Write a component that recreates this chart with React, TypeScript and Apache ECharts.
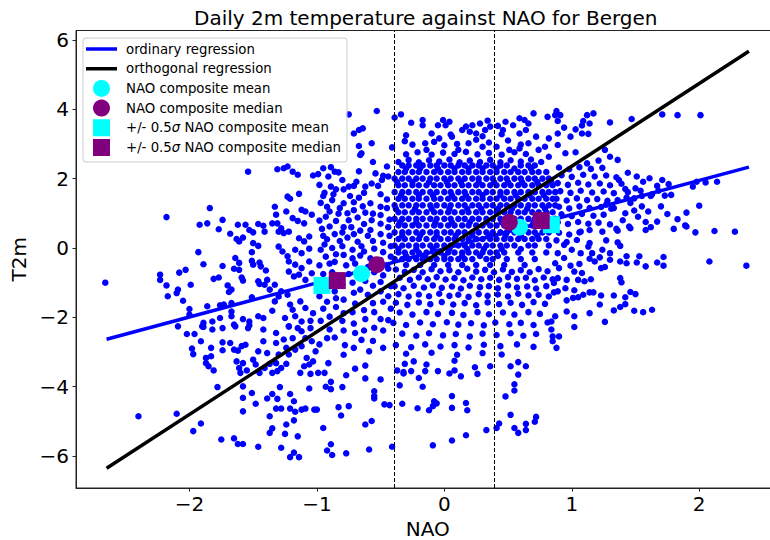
import { useEffect, useRef } from 'react';
import * as echarts from 'echarts';

const TITLE = 'Daily 2m temperature against NAO for Bergen';
const X_TICKS = [-2, -1, 0, 1, 2];
const Y_TICKS = [-6, -4, -2, 0, 2, 4, 6];
const X_RANGE = [-2.89, 2.63];
const Y_RANGE = [-6.92, 6.27];
const NAO_THRESHOLDS = [-0.39, 0.39];

const LEGEND_NAMES = [
  'ordinary regression',
  'orthogonal regression',
  'NAO composite mean',
  'NAO composite median',
  '+/- 0.5σ NAO composite mean',
  '+/- 0.5σ NAO composite median',
];

const ordinaryLine = [[-2.65, -2.63], [2.39, 2.33]];
const orthogonalLine = [[-2.65, -6.35], [2.39, 5.67]];
const compositeMean = [[-0.65, -0.74], [0.59, 0.6]];
const compositeMedian = [[-0.53, -0.48], [0.51, 0.74]];
const halfSigmaMean = [[-0.96, -1.08], [0.84, 0.67]];
const halfSigmaMedian = [[-0.84, -0.94], [0.76, 0.79]];

// daily points, sparse outer cloud (left side)
const leftPoints = [
  [-2.66, -1.0], [-2.18, 0.89], [-1.84, 1.15], [-1.93, -0.12], [-1.89, -0.47], [-2.23, -0.77], [-2.23, -0.92],
  [-2.18, -1.08], [-2.17, -1.39], [-2.09, -1.2], [-2.1, -1.3], [-2.05, -1.52], [-1.99, -1.06], [-2.08, -0.71],
  [-2.03, -0.63], [-1.92, 0.67], [-1.86, 0.71], [-1.77, 0.54], [-1.74, 0.81], [-1.68, 0.41], [-1.62, 0.67],
  [-1.56, 0.67], [-1.63, 0.26], [-1.61, 0.19], [-1.58, 0.3], [-1.53, 0.52], [-1.5, 0.45], [-1.46, 0.69],
  [-1.42, 0.64], [-1.41, 0.47], [-1.5, 0.14], [-1.46, 0.06], [-1.51, -0.12], [-1.64, -0.29], [-1.61, -0.43],
  [-1.65, -0.6], [-1.61, -0.63], [-1.74, -0.52], [-1.77, -0.85], [-1.81, -0.89], [-1.7, -1.08], [-1.67, -1.2],
  [-1.69, -1.27], [-1.59, -0.85], [-1.58, -0.94], [-1.51, -0.37], [-1.5, -0.48], [-1.45, -0.42], [-1.44, -0.53],
  [-1.4, -0.65], [-1.46, -0.96], [-1.45, -1.04], [-1.41, -1.06], [-1.37, -1.2], [-1.39, -0.92], [-1.33, -1.06],
  [-1.51, -1.42], [-1.76, -1.65], [-1.73, -1.63], [-1.67, -1.59], [-1.86, -1.68], [-2.0, -1.76], [-2.0, -1.92],
  [-1.89, -2.16], [-1.89, -2.28], [-2.09, -2.26], [-1.82, -2.12], [-1.76, -2.02], [-1.67, -1.83], [-1.67, -1.97],
  [-1.64, -2.26], [-1.58, -2.05], [-1.53, -2.12], [-1.54, -2.31], [-1.46, -1.97], [-1.42, -2.02], [-1.33, -1.54],
  [-1.35, -1.81], [-1.25, -2.02], [-1.22, -2.26], [-1.17, -1.97], [-1.12, -2.12], [-1.15, -2.31], [-1.28, -1.25],
  [-1.3, -1.4], [-1.23, -1.35], [-1.21, -1.63], [-1.19, -1.78], [-1.13, -1.54], [-1.09, -1.73], [-1.03, -1.88],
  [-1.05, -2.1], [-1.54, 2.2], [-1.31, 2.27], [-1.26, 2.3], [-1.23, 2.35], [-1.19, 2.2], [-1.15, 2.11],
  [-1.03, 2.09], [-1.23, 1.48], [-1.14, 1.56], [-1.21, 1.42], [-1.33, 1.19], [-1.32, 0.96], [-1.24, 1.05],
  [-1.19, 0.86], [-1.15, 0.78], [-1.1, 0.71], [-1.09, 1.05], [-1.12, 1.1], [-1.04, 0.96], [-1.35, 0.71],
  [-1.31, 0.71], [-1.28, 0.57], [-1.3, 0.47], [-1.22, 0.47], [-1.26, 0.43], [-1.14, 0.28], [-1.1, 0.19],
  [-1.06, 0.33], [-1.27, -0.1], [-1.23, -0.24], [-1.17, -0.05], [-1.12, -0.15], [-1.06, -0.02], [-1.3, 0.04],
  [-1.22, -0.39], [-1.17, -0.48], [-1.12, -0.58], [-1.06, -0.39], [-1.14, -0.77], [-1.09, -0.92], [-1.04, -0.73],
  [-1.18, -0.82], [-1.22, -0.68],
  [-2.4, -4.85], [-2.1, -4.78], [-1.97, -5.28], [-1.91, -5.06], [-1.75, -5.52], [-1.65, -5.49], [-1.62, -5.65],
  [-1.58, -5.65], [-1.46, -5.73], [-1.28, -5.76], [-1.21, -6.03], [-1.18, -5.9], [-1.14, -6.03], [-1.15, -5.43],
  [-1.37, -5.33], [-1.35, -5.2], [-1.25, -5.36], [-1.24, -5.09], [-1.18, -4.97], [-1.37, -4.85], [-1.32, -4.63],
  [-1.28, -4.63], [-1.21, -4.63], [-1.17, -4.72], [-1.12, -4.66], [-1.09, -4.63], [-1.02, -4.66], [-1.58, -4.71],
  [-1.48, -4.49], [-1.51, -4.18], [-1.58, -4.32], [-1.39, -4.34], [-1.35, -4.21], [-1.31, -4.35], [-1.29, -4.01],
  [-1.21, -4.21], [-1.18, -4.42], [-1.06, -4.05], [-1.78, -4.01], [-1.58, -3.99],
  [-2.02, -2.48], [-1.96, -2.48], [-1.91, -2.69], [-1.98, -2.9], [-1.97, -3.06], [-1.87, -3.17], [-1.83, -3.12],
  [-1.87, -3.32], [-1.85, -3.41], [-1.81, -3.53], [-1.83, -2.88], [-1.74, -2.72], [-1.74, -2.95], [-1.68, -2.74],
  [-1.65, -2.93], [-1.62, -2.96], [-1.59, -2.83], [-1.56, -2.79], [-1.63, -3.27], [-1.61, -3.46], [-1.6, -3.6],
  [-1.55, -3.53], [-1.58, -3.32], [-1.5, -3.22], [-1.46, -2.98], [-1.48, -3.36], [-1.45, -3.6], [-1.41, -3.46],
  [-1.37, -3.34], [-1.39, -3.03], [-1.32, -3.32], [-1.3, -3.07], [-1.28, -3.46], [-1.24, -3.34], [-1.35, -3.6],
  [-1.31, -3.55], [-1.22, -3.07], [-1.17, -2.93], [-1.12, -2.83], [-1.08, -3.17], [-1.06, -3.36], [-1.13, -3.6],
  [-1.05, -3.63], [-1.03, -3.27], [-1.1, -3.41], [-1.01, -2.98],
  [-1.9, -2.26], [-1.82, -2.35], [-1.74, -2.31], [-1.65, -2.21], [-1.53, -2.23], [-1.42, -2.35], [-1.32, -2.45],
  [-1.22, -2.26], [-1.12, -2.4], [-1.05, -2.31], [-1.42, -2.69], [-1.32, -2.74], [-1.26, -2.64], [-1.19, -2.6],
  [-1.09, -2.6], [-1.04, -2.69], [-1.24, -2.88],
];

// lower half, between -1 and 0.9
const bottomPoints = [
  [-0.95, -5.19], [-0.89, -5.66], [-0.92, -5.84], [-0.88, -5.97], [-0.77, -5.92], [-0.59, -5.81], [-0.41, -5.73],
  [-0.09, -5.69], [0.06, -5.55], [0.17, -5.4], [0.33, -5.25], [0.41, -5.19], [0.43, -5.06], [0.55, -5.19],
  [0.58, -5.33], [0.64, -5.25], [0.64, -5.07], [0.71, -5.01], [0.72, -4.87], [0.52, -4.81], [-0.62, -5.09],
  [-0.57, -4.99], [-0.81, -4.83], [-0.83, -4.59], [-0.75, -4.56], [-1.0, -4.66], [-0.47, -4.51], [-0.43, -4.53],
  [-0.33, -4.49], [-0.21, -4.62], [-0.12, -4.68], [-0.09, -4.56], [-0.08, -4.42], [-0.06, -4.48], [0.06, -4.61],
  [0.06, -4.27], [0.17, -4.47], [0.18, -4.68], [0.48, -4.28], [0.55, -4.11], [0.55, -3.93], [-0.55, -4.13],
  [-0.55, -4.27], [-0.55, -4.34], [-0.93, -4.0], [-0.89, -4.07], [-0.8, -4.01], [-0.89, -3.86], [-0.5, -3.79],
  [-0.35, -3.96], [-0.17, -4.0], [-0.62, -3.76], [-0.7, -3.48], [-0.77, -3.67], [-0.94, -3.6], [-0.99, -3.6],
  [-0.91, -3.32], [-0.62, -3.39], [-0.37, -3.53], [-0.32, -3.62], [-0.26, -3.55], [-0.2, -3.75], [-0.15, -3.55],
  [-0.14, -3.36], [-0.05, -3.55], [0.04, -3.62], [0.08, -3.53], [0.13, -3.7], [0.08, -3.25], [0.24, -3.44],
  [0.26, -3.63], [0.36, -3.41], [0.52, -3.41], [0.58, -3.29], [0.64, -3.41], [0.58, -3.65], [-0.24, -3.27],
  [-0.31, -3.34], [-0.32, -3.58],
];

// right side, x above 0.85
const rightPoints = [
  [1.3, 3.62], [1.47, 3.72], [1.71, 3.85], [1.83, 3.83], [2.01, 3.83], [1.17, 3.88], [1.12, 3.83], [1.09, 3.66],
  [1.14, 3.59], [1.08, 3.53], [1.03, 3.42], [1.08, 3.3], [1.13, 3.29], [0.99, 3.21], [0.88, 3.95], [0.91, 3.83],
  [0.89, 3.66], [0.94, 3.47], [0.89, 3.3], [0.89, 2.97], [1.26, 2.83], [1.3, 2.63], [1.36, 2.54], [1.21, 2.52],
  [1.03, 2.76], [0.95, 2.73], [1.12, 2.44], [1.44, 2.17], [1.37, 1.96], [1.51, 2.06], [1.56, 1.91], [1.61, 2.01],
  [1.71, 1.96], [1.67, 1.79], [1.76, 1.84], [1.95, 1.77], [1.98, 1.91], [2.05, 1.89], [2.14, 1.91], [2.0, 1.22],
  [1.9, 1.02], [1.83, 0.83], [1.67, 0.76], [1.89, 0.65], [1.49, 1.08], [1.42, 1.0], [1.62, 1.5], [1.78, 1.53],
  [1.73, 1.51], [1.49, 1.43], [1.54, 1.65], [1.44, 1.61], [1.39, 1.85], [1.42, 1.7], [1.5, 1.72], [1.55, 1.5],
  [1.63, 1.55], [1.68, 1.65], [1.43, 1.45], [1.36, 1.38], [1.27, 1.25], [1.33, 1.15], [1.46, 1.3], [1.55, 1.2],
  [1.6, 1.05], [1.7, 1.2], [1.52, 0.9], [1.58, 0.75], [1.75, 0.98], [1.4, 0.8], [1.45, 0.62], [1.35, 0.55],
  [1.62, 0.6],
  [2.37, -0.51], [2.08, -0.39], [2.28, 0.47], [2.12, 0.49], [1.97, 0.45], [1.9, 0.62], [1.8, 0.55], [1.72, -0.26],
  [1.72, -0.51], [1.67, -0.42], [1.58, -0.53], [1.53, -0.24], [1.51, -0.42], [1.43, -0.24], [1.43, -0.44],
  [1.38, -0.39], [1.38, -0.87], [1.39, -0.99], [1.5, -1.33], [1.46, -1.27], [1.42, -1.42], [1.42, -1.62],
  [1.38, -1.7], [1.33, -1.8], [1.33, -1.37], [1.23, -1.37], [1.22, -1.63], [1.14, -1.88], [1.26, -2.13],
  [1.49, -1.81], [1.56, -1.85], [1.63, -1.78], [1.02, -2.28], [1.02, -1.97], [0.96, -1.83], [0.87, -1.97],
  [0.84, -2.12], [0.84, -2.35], [0.9, -2.55], [0.85, -2.55], [0.85, -2.69], [0.88, -2.88], [1.17, -1.28],
  [1.14, -1.28], [1.09, -1.35], [1.05, -1.42], [1.01, -1.44], [0.96, -1.51], [1.02, -1.22], [0.95, -1.16],
  [0.89, -1.25], [0.86, -1.28], [0.86, -1.01], [0.96, -0.92], [1.05, -0.92], [1.1, -0.96], [1.15, -0.9],
  [1.08, -0.72], [1.02, -0.68], [0.99, -0.51], [1.06, -0.46], [1.14, -0.31], [1.18, -0.39], [1.22, -0.27],
  [1.24, -0.05], [1.3, -0.15], [1.3, -0.34], [1.26, -0.55], [1.23, -0.58], [1.27, 0.22], [1.36, 0.16],
  [1.38, 0.06], [1.16, -0.15], [1.13, 0.04], [1.14, 0.14], [1.07, -0.15], [1.0, -0.05], [0.94, 0.09],
  [0.89, -0.15], [0.94, -0.29], [0.87, -0.44], [0.9, -0.58], [0.89, -0.87], [1.24, 0.47], [1.36, 0.5],
  [1.46, 0.57], [1.58, 0.52], [1.14, 0.52], [1.07, 0.47],
  [0.9, 2.32], [0.98, 2.27], [1.06, 2.33], [1.15, 2.28], [1.24, 2.31], [0.92, 2.1], [1.0, 2.05], [1.09, 2.11],
  [1.18, 2.06], [1.27, 2.09], [1.35, 2.04], [0.89, 1.87], [0.97, 1.82], [1.05, 1.88], [1.13, 1.83], [1.22, 1.86],
  [1.3, 1.81], [0.91, 1.64], [0.99, 1.59], [1.07, 1.65], [1.16, 1.6], [1.25, 1.63], [1.33, 1.58], [0.88, 1.42],
  [0.96, 1.37], [1.04, 1.43], [1.12, 1.38], [1.2, 1.41], [1.28, 1.36], [0.9, 1.19], [0.98, 1.14], [1.06, 1.2],
  [1.14, 1.15], [1.23, 1.18], [1.31, 1.13], [0.92, 0.97], [1.0, 0.92], [1.08, 0.98], [1.17, 0.93], [1.25, 0.96],
  [0.89, 0.74], [0.97, 0.69], [1.05, 0.75], [1.13, 0.7], [1.21, 0.73], [1.3, 0.68], [0.9, 0.44], [0.98, 0.39],
  [1.06, 0.45], [0.88, 0.22], [0.96, 0.17], [1.04, 0.23],
];

// upper band, above the dense core
const topPoints = [
  [-0.53, 3.95], [-0.39, 3.76], [-0.34, 3.85], [-0.75, 3.85], [-0.64, 3.45], [-0.67, 3.4], [-0.71, 3.3],
  [-0.26, 3.61], [-0.17, 3.69], [-0.17, 3.54], [-0.05, 3.54], [-0.01, 3.69], [0.04, 3.64], [0.01, 3.54],
  [0.14, 3.4], [0.17, 3.5], [0.22, 3.54], [0.28, 3.59], [0.34, 3.67], [0.36, 3.5], [0.32, 3.4], [0.25, 3.3],
  [0.2, 3.35], [0.42, 3.52], [0.46, 3.4], [0.48, 3.64], [0.54, 3.54], [0.59, 3.74], [0.63, 3.69], [0.66, 3.59],
  [0.7, 3.88], [0.64, 3.4], [0.59, 3.3], [0.72, 3.21], [0.82, 3.16], [0.81, 3.78], [0.87, 3.83],
  [-0.67, 2.94], [-0.66, 2.68], [-0.57, 3.02], [-0.31, 3.08], [-0.41, 2.9], [-0.14, 2.83], [-0.08, 3.06],
  [-0.04, 3.16], [0.06, 3.21], [0.11, 2.83], [0.19, 3.02], [0.3, 2.92], [0.41, 2.92], [0.51, 2.83], [0.59, 2.87],
  [0.66, 3.02], [0.74, 2.83], [0.82, 2.63], [0.79, 2.92],
  [-0.36, 2.48], [-0.28, 2.54], [-0.2, 2.47], [-0.12, 2.53], [-0.04, 2.49], [0.04, 2.55], [0.12, 2.47], [0.2, 2.52],
  [0.28, 2.48], [0.36, 2.54], [0.44, 2.47], [0.52, 2.53], [0.6, 2.49], [0.68, 2.55], [0.76, 2.48],
  [-0.3, 2.7], [-0.21, 2.76], [-0.1, 2.69], [-0.01, 2.75], [0.08, 2.71], [0.17, 2.77], [0.26, 2.7], [0.35, 2.74],
  [0.45, 2.69], [0.55, 2.76], [0.64, 2.71], [-0.25, 2.98], [-0.15, 3.02], [0.0, 2.96], [0.1, 3.0], [0.25, 3.12],
  [0.35, 3.04], [0.5, 3.1], [0.6, 2.98], [-0.3, 3.25], [-0.1, 3.3], [0.05, 3.27], [0.3, 3.22], [0.45, 3.28],
];

// medium density band left of the -0.39 threshold
const leftBandPoints = [
  [-0.95, 2.3], [-0.91, 2.06], [-0.86, 2.2], [-0.98, 1.82], [-0.89, 1.77], [-0.8, 1.96], [-0.75, 1.77],
  [-0.69, 1.91], [-0.62, 1.77], [-0.57, 1.86], [-0.49, 1.96], [-0.45, 2.35], [-0.54, 2.15], [-0.44, 2.06],
  [-0.99, 2.13], [-0.89, 2.33], [-0.83, 2.18], [-0.67, 2.21], [-0.56, 2.48], [-0.65, 2.73], [-0.79, 1.69],
  [-0.85, 1.69], [-0.94, 1.59], [-0.92, 1.19], [-0.79, 1.29], [-0.83, 0.99], [-0.71, 1.09], [-0.98, 0.79],
  [-0.94, 0.1], [-0.86, 0.4], [-0.79, 0.6], [-0.71, 0.4], [-0.63, 0.69], [-0.56, 0.99], [-0.58, 1.29],
  [-0.63, 1.59], [-0.71, 1.79], [-0.52, 1.79], [-0.48, 2.08], [-0.5, 1.19], [-0.44, 0.6], [-0.56, 0.2],
  [-0.63, -0.1], [-0.79, -0.2], [-0.86, -0.4], [-0.98, -0.5], [-0.98, -1.39], [-0.79, -1.49], [-0.71, -1.29],
  [-0.56, -1.09], [-0.48, -0.79], [-0.44, -1.39], [-0.56, -1.59], [-0.63, -1.79], [-0.79, -1.88], [-0.9, -1.98],
  [-0.98, -2.78], [-0.86, -2.58], [-0.79, -2.38], [-0.71, -2.18], [-0.63, -2.38], [-0.56, -2.68], [-0.48, -2.38],
  [-0.44, -2.08], [-0.48, -2.88], [-0.59, -2.98], [-0.71, -2.88], [-0.79, -3.08],
  [-0.95, 1.5], [-0.87, 1.55], [-0.74, 1.5], [-0.67, 1.45], [-0.5, 1.55], [-0.45, 1.4], [-0.97, 1.3],
  [-0.88, 1.38], [-0.71, 1.32], [-0.64, 1.2], [-0.45, 1.15], [-0.9, 1.05], [-0.82, 1.15], [-0.76, 1.0],
  [-0.62, 1.02], [-0.5, 0.95], [-0.43, 0.82], [-0.93, 0.9], [-0.85, 0.78], [-0.75, 0.8], [-0.68, 0.88],
  [-0.57, 0.8], [-0.5, 0.7], [-0.96, 0.55], [-0.9, 0.62], [-0.8, 0.45], [-0.73, 0.6], [-0.66, 0.5], [-0.58, 0.52],
  [-0.5, 0.4], [-0.43, 0.35], [-0.95, 0.35], [-0.92, 0.25], [-0.82, 0.2], [-0.76, 0.3], [-0.68, 0.18], [-0.6, 0.35],
  [-0.48, 0.15], [-0.42, 0.05], [-0.97, -0.05], [-0.88, 0.0], [-0.8, 0.05], [-0.72, -0.05], [-0.65, 0.05],
  [-0.55, -0.02], [-0.48, -0.12], [-0.42, -0.25], [-0.93, -0.25], [-0.85, -0.18], [-0.72, -0.3], [-0.66, -0.22],
  [-0.58, -0.3], [-0.5, -0.35], [-0.45, -0.5], [-0.9, -0.45], [-0.77, -0.5], [-0.7, -0.45], [-0.6, -0.55],
  [-0.95, -0.75], [-0.88, -0.7], [-0.75, -0.75], [-0.67, -0.8], [-0.55, -0.7], [-0.44, -0.6], [-0.92, -1.0],
  [-0.8, -1.05], [-0.72, -1.0], [-0.62, -0.95], [-0.5, -0.98], [-0.42, -1.1], [-0.96, -1.2], [-0.86, -1.25],
  [-0.66, -1.2], [-0.6, -1.35], [-0.5, -1.25], [-0.92, -1.55], [-0.85, -1.45], [-0.7, -1.6], [-0.48, -1.55],
  [-0.42, -1.75], [-0.95, -1.75], [-0.85, -1.7], [-0.72, -1.85], [-0.55, -1.85], [-0.5, -2.05], [-0.97, -2.1],
  [-0.8, -2.1], [-0.62, -2.05], [-0.9, -2.35], [-0.7, -2.45], [-0.55, -2.3], [-0.92, -2.6], [-0.65, -2.65],
  [-0.78, -2.8],
];

// medium density band below the dense core
const lowerBandPoints = [
  [-0.38, -0.62], [-0.31, -0.69], [-0.24, -0.63], [-0.17, -0.7], [-0.1, -0.61], [-0.03, -0.67], [0.04, -0.64],
  [0.11, -0.7], [0.18, -0.6], [0.25, -0.68], [0.32, -0.63], [0.39, -0.7], [0.46, -0.62], [0.53, -0.69],
  [0.6, -0.64], [0.67, -0.7], [0.74, -0.61], [0.81, -0.67],
  [-0.35, -0.86], [-0.27, -0.92], [-0.2, -0.85], [-0.13, -0.9], [-0.06, -0.84], [0.01, -0.91], [0.08, -0.87],
  [0.15, -0.93], [0.22, -0.85], [0.29, -0.9], [0.36, -0.86], [0.43, -0.92], [0.5, -0.84], [0.57, -0.89],
  [0.64, -0.86], [0.71, -0.93], [0.78, -0.85], [0.85, -0.9],
  [-0.39, -1.1], [-0.32, -1.16], [-0.24, -1.09], [-0.16, -1.14], [-0.09, -1.08], [-0.02, -1.15], [0.06, -1.11],
  [0.13, -1.17], [0.2, -1.09], [0.28, -1.13], [0.35, -1.1], [0.42, -1.16], [0.5, -1.08], [0.57, -1.14],
  [0.65, -1.11], [0.72, -1.17], [0.8, -1.1],
  [-0.36, -1.33], [-0.28, -1.4], [-0.2, -1.34], [-0.12, -1.39], [-0.04, -1.32], [0.04, -1.38], [0.11, -1.35],
  [0.19, -1.41], [0.27, -1.33], [0.34, -1.38], [0.42, -1.34], [0.5, -1.4], [0.58, -1.32], [0.66, -1.37],
  [0.74, -1.35], [0.82, -1.4],
  [-0.38, -1.58], [-0.29, -1.64], [-0.2, -1.57], [-0.11, -1.62], [-0.02, -1.56], [0.07, -1.63], [0.16, -1.59],
  [0.25, -1.65], [0.34, -1.57], [0.43, -1.62], [0.52, -1.58], [0.61, -1.64], [0.7, -1.56], [0.79, -1.61],
  [-0.35, -1.86], [-0.25, -1.92], [-0.14, -1.85], [-0.05, -1.9], [0.06, -1.87], [0.15, -1.93], [0.26, -1.85],
  [0.35, -1.91], [0.46, -1.86], [0.55, -1.92], [0.66, -1.85], [0.75, -1.9],
  [-0.4, -2.16], [-0.3, -2.22], [-0.19, -2.15], [-0.09, -2.2], [0.02, -2.14], [0.11, -2.21], [0.21, -2.17],
  [0.31, -2.23], [0.4, -2.15], [0.51, -2.2], [0.6, -2.16], [0.7, -2.22], [0.81, -2.15],
  [-0.33, -2.47], [-0.22, -2.53], [-0.12, -2.46], [-0.01, -2.52], [0.09, -2.48], [0.2, -2.55], [0.3, -2.47],
  [0.41, -2.51], [0.52, -2.46], [0.62, -2.53], [0.72, -2.48],
  [-0.38, -2.8], [-0.26, -2.86], [-0.15, -2.78], [-0.03, -2.84], [0.08, -2.8], [0.19, -2.87], [0.31, -2.79],
  [0.44, -2.83], [0.57, -2.78], [0.7, -2.85], [-0.3, -3.05], [-0.1, -3.02], [0.1, -3.08], [0.3, -3.03],
  [0.45, -3.07],
];

// solid core of the cloud, one row of NAO values per T2m level
const coreRows: [number, number[]][] = [
  [2.38, [-0.33, -0.28, -0.22, -0.17, -0.11, -0.06, 0.0, 0.05, 0.11, 0.16, 0.22, 0.27, 0.33, 0.38, 0.44, 0.49, 0.6, 0.66, 0.71]],
  [2.29, [-0.3, -0.19, -0.05, 0.08, 0.19, 0.3, 0.41, 0.55, 0.68]],
  [2.19, [-0.36, -0.31, -0.25, -0.2, -0.14, -0.08, -0.03, 0.03, 0.08, 0.14, 0.19, 0.25, 0.3, 0.36, 0.41, 0.47, 0.52, 0.58, 0.63, 0.69, 0.74, 0.8]],
  [2.0, [-0.39, -0.33, -0.28, -0.22, -0.17, -0.11, -0.06, 0.0, 0.05, 0.11, 0.16, 0.22, 0.27, 0.33, 0.38, 0.44, 0.49, 0.55, 0.6, 0.66, 0.71, 0.77, 0.82]],
  [1.9, [-0.37, -0.25, -0.12, 0.02, 0.13, 0.27, 0.39, 0.5, 0.61, 0.73, 0.84]],
  [1.81, [-0.36, -0.31, -0.25, -0.2, -0.14, -0.08, -0.03, 0.03, 0.08, 0.14, 0.19, 0.25, 0.3, 0.36, 0.41, 0.47, 0.52, 0.58, 0.63, 0.69, 0.74, 0.8, 0.85]],
  [1.61, [-0.39, -0.33, -0.28, -0.22, -0.17, -0.11, -0.06, 0.0, 0.05, 0.11, 0.16, 0.22, 0.27, 0.33, 0.38, 0.44, 0.49, 0.55, 0.6, 0.66, 0.71, 0.77, 0.82, 0.87]],
  [1.52, [-0.34, -0.2, -0.09, 0.06, 0.17, 0.3, 0.44, 0.56, 0.67, 0.78]],
  [1.42, [-0.36, -0.31, -0.25, -0.2, -0.14, -0.08, -0.03, 0.03, 0.08, 0.14, 0.19, 0.25, 0.3, 0.36, 0.41, 0.47, 0.52, 0.58, 0.63, 0.69, 0.74, 0.8, 0.85]],
  [1.23, [-0.39, -0.33, -0.28, -0.22, -0.17, -0.11, -0.06, 0.0, 0.05, 0.11, 0.16, 0.22, 0.27, 0.33, 0.38, 0.44, 0.49, 0.55, 0.6, 0.66, 0.71, 0.77, 0.82, 0.87]],
  [1.13, [-0.38, -0.23, -0.1, 0.04, 0.18, 0.29, 0.42, 0.53, 0.65, 0.79]],
  [1.03, [-0.36, -0.31, -0.25, -0.2, -0.14, -0.08, -0.03, 0.03, 0.08, 0.14, 0.19, 0.25, 0.3, 0.36, 0.41, 0.47, 0.52, 0.58, 0.63, 0.69, 0.74, 0.8, 0.85]],
  [0.84, [-0.39, -0.33, -0.28, -0.22, -0.17, -0.11, -0.06, 0.0, 0.05, 0.11, 0.16, 0.22, 0.27, 0.33, 0.38, 0.44, 0.49, 0.55, 0.6, 0.66, 0.71, 0.77, 0.82, 0.87]],
  [0.74, [-0.35, -0.22, -0.07, 0.06, 0.2, 0.33, 0.45, 0.57, 0.7, 0.83]],
  [0.65, [-0.36, -0.31, -0.25, -0.2, -0.14, -0.08, -0.03, 0.03, 0.08, 0.14, 0.19, 0.25, 0.3, 0.36, 0.41, 0.47, 0.52, 0.58, 0.63, 0.69, 0.74, 0.8, 0.85]],
  [0.45, [-0.39, -0.33, -0.28, -0.22, -0.17, -0.11, -0.06, 0.0, 0.05, 0.11, 0.16, 0.22, 0.27, 0.33, 0.38, 0.44, 0.49, 0.55, 0.6, 0.66, 0.71, 0.77, 0.82]],
  [0.36, [-0.33, -0.19, -0.06, 0.09, 0.22, 0.35, 0.48, 0.6, 0.73]],
  [0.26, [-0.36, -0.31, -0.25, -0.2, -0.14, -0.08, -0.03, 0.03, 0.08, 0.14, 0.19, 0.25, 0.3, 0.36, 0.41, 0.47, 0.52, 0.58, 0.63, 0.69, 0.74, 0.8]],
  [0.07, [-0.39, -0.33, -0.28, -0.22, -0.17, -0.11, -0.06, 0.0, 0.05, 0.11, 0.16, 0.22, 0.27, 0.33, 0.38, 0.44, 0.49, 0.55, 0.66, 0.71, 0.82]],
  [-0.03, [-0.36, -0.22, -0.09, 0.04, 0.18, 0.31, 0.45, 0.6]],
  [-0.13, [-0.36, -0.31, -0.25, -0.2, -0.14, -0.08, -0.03, 0.03, 0.08, 0.14, 0.19, 0.25, 0.3, 0.36, 0.41, 0.47, 0.58, 0.69, 0.8]],
  [-0.23, [-0.3, -0.15, 0.0, 0.14, 0.28, 0.42]],
  [-0.32, [-0.39, -0.33, -0.28, -0.22, -0.17, -0.11, -0.06, 0.0, 0.05, 0.11, 0.16, 0.22, 0.33, 0.38, 0.49, 0.6, 0.71]],
  [-0.49, [-0.3, -0.19, -0.08, 0.03, 0.14, 0.25, 0.36, 0.47, 0.63]],
];

const dailyPoints = [
  ...leftPoints,
  ...bottomPoints,
  ...rightPoints,
  ...topPoints,
  ...leftBandPoints,
  ...lowerBandPoints,
  ...coreRows.flatMap(([t2m, naos]) => naos.map((nao) => [nao, t2m])),
];

const FONT = 'DejaVu Sans';
const minus = (v: number) => String(v).replace('-', '\u2212');

// legend handles: zero-area corner points keep the 31x17 box so the shape is not stretched
const LINE_ICON = 'path://M0,0Z M0,6.75H31V10.25H0Z M31,17Z';
const SQUARE_ICON = 'path://M0,0Z M7,0H24V17H7Z M31,17Z';
const LEGEND_ICONS = [LINE_ICON, LINE_ICON, 'circle', 'circle', SQUARE_ICON, SQUARE_ICON];

export default function App() {
  const chartRef = useRef<HTMLDivElement>(null);

  useEffect(() => {
    if (!chartRef.current) return;
    document.body.style.margin = '0';
    const chart = echarts.init(chartRef.current, null, { renderer: 'svg' });

    const axisCommon = {
      axisLine: { show: true, onZero: false, lineStyle: { color: '#222', width: 1 } },
      axisTick: { show: true, length: 3.5, lineStyle: { color: '#222', width: 1 } },
      splitLine: { show: false },
      nameLocation: 'middle' as const,
      nameTextStyle: { fontSize: 20, color: '#000', fontFamily: FONT },
    };

    chart.setOption({
      animation: false,
      textStyle: { fontFamily: FONT },
      title: {
        text: TITLE,
        left: 194,
        top: 8,
        padding: 0,
        textStyle: { fontSize: 20, fontWeight: 'normal', color: '#000', fontFamily: FONT },
      },
      grid: {
        left: 76,
        top: 30.5,
        width: 703.5,
        height: 457.5,
        outerBoundsMode: 'none',
        containLabel: false,
        show: true,
        borderColor: '#222',
        borderWidth: 1,
        backgroundColor: 'transparent',
      },
      legend: {
        data: LEGEND_NAMES.map((name, i) => ({ name, icon: LEGEND_ICONS[i] })),
        orient: 'vertical',
        left: 83,
        top: 38,
        itemWidth: 31,
        itemHeight: 17,
        itemGap: 2.7,
        padding: [2.5, 6, 6, 3],
        selectedMode: false,
        backgroundColor: 'rgba(255,255,255,0.8)',
        borderColor: '#cccccc',
        borderWidth: 1,
        borderRadius: 3,
        formatter: (name: string) => name.replace('σ', '{i|σ}'),
        textStyle: {
          fontSize: 13.3,
          color: '#000',
          fontFamily: FONT,
          padding: [0, 0, 0, 4],
          rich: { i: { fontSize: 13.3, fontStyle: 'italic', fontFamily: FONT, color: '#000' } },
        },
      },
      xAxis: {
        ...axisCommon,
        type: 'value',
        min: X_RANGE[0],
        max: X_RANGE[1],
        name: 'NAO',
        nameGap: 23,
        axisTick: { ...axisCommon.axisTick, customValues: X_TICKS },
        axisLabel: {
          customValues: X_TICKS,
          formatter: minus,
          fontSize: 20,
          color: '#000',
          margin: 6,
          fontFamily: FONT,
        },
      },
      yAxis: {
        ...axisCommon,
        type: 'value',
        min: Y_RANGE[0],
        max: Y_RANGE[1],
        name: 'T2m',
        nameGap: 41,
        axisTick: { ...axisCommon.axisTick, customValues: Y_TICKS },
        axisLabel: {
          customValues: Y_TICKS,
          formatter: minus,
          fontSize: 20,
          color: '#000',
          margin: 7,
          fontFamily: FONT,
        },
      },
      series: [
        {
          name: 'daily',
          type: 'scatter',
          data: dailyPoints,
          symbol: 'circle',
          symbolSize: 6.5,
          itemStyle: { color: '#0000ff', opacity: 1 },
          z: 2,
          silent: true,
          progressive: 0,
          large: false,
          markLine: {
            silent: true,
            symbol: 'none',
            label: { show: false },
            lineStyle: { type: [4, 2], color: '#000', width: 1 },
            data: NAO_THRESHOLDS.map((v) => ({ xAxis: v })),
          },
        },
        {
          name: LEGEND_NAMES[0],
          type: 'line',
          data: ordinaryLine,
          symbol: 'none',
          lineStyle: { color: '#0000ff', width: 3.5 },
          itemStyle: { color: '#0000ff' },
          z: 3,
          silent: true,
        },
        {
          name: LEGEND_NAMES[1],
          type: 'line',
          data: orthogonalLine,
          symbol: 'none',
          lineStyle: { color: '#000000', width: 3.5 },
          itemStyle: { color: '#000000' },
          z: 3,
          silent: true,
        },
        {
          name: LEGEND_NAMES[2],
          type: 'scatter',
          data: compositeMean,
          symbol: 'circle',
          symbolSize: 17,
          itemStyle: { color: '#00ffff', opacity: 1 },
          z: 6,
          silent: true,
        },
        {
          name: LEGEND_NAMES[3],
          type: 'scatter',
          data: compositeMedian,
          symbol: 'circle',
          symbolSize: 17,
          itemStyle: { color: '#800080', opacity: 1 },
          z: 6,
          silent: true,
        },
        {
          name: LEGEND_NAMES[4],
          type: 'scatter',
          data: halfSigmaMean,
          symbol: 'rect',
          symbolSize: 17,
          itemStyle: { color: '#00ffff', opacity: 1 },
          z: 6,
          silent: true,
        },
        {
          name: LEGEND_NAMES[5],
          type: 'scatter',
          data: halfSigmaMedian,
          symbol: 'rect',
          symbolSize: 17,
          itemStyle: { color: '#800080', opacity: 1 },
          z: 6,
          silent: true,
        },
      ],
    });

    return () => chart.dispose();
  }, []);

  return <div ref={chartRef} style={{ width: 770, height: 540 }} />;
}
